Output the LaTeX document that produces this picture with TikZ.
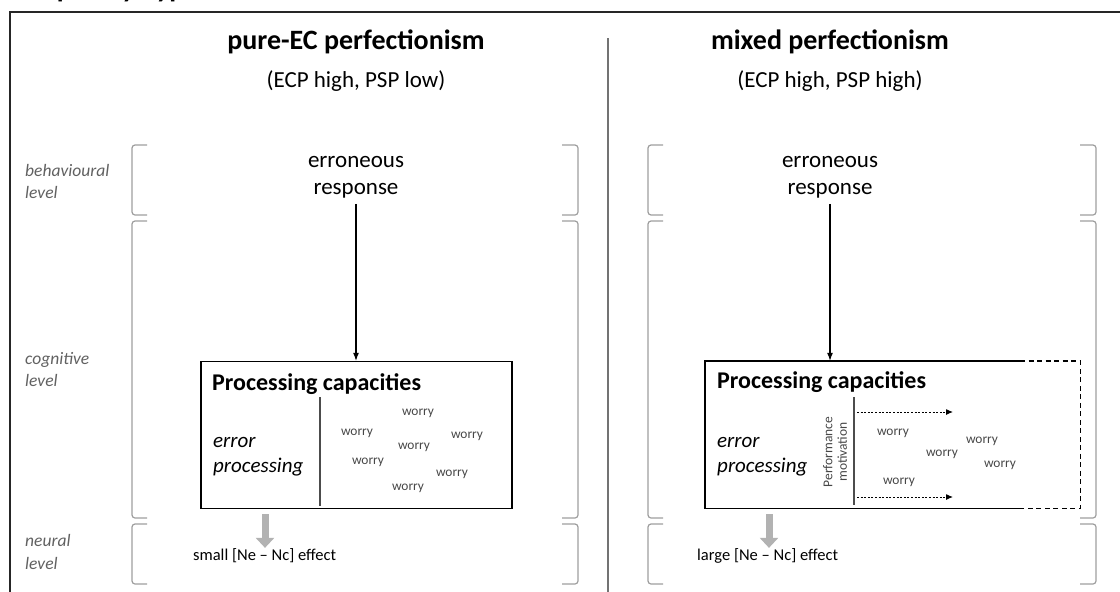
\documentclass[tikz,border=0pt]{standalone}
\usepackage{fontspec}
\setmainfont{Carlito}
\usetikzlibrary{arrows.meta,calc}
\newcommand\openbrk[3]{\draw[brk] ({#1+15},#2) -- (#1,#2) -- (#1,#3) -- ({#1+15},#3);}
\newcommand\closebrk[3]{\draw[brk] ({#1-16},#2) -- (#1,#2) -- (#1,#3) -- ({#1-16},#3);}
\begin{document}
\begin{tikzpicture}[x=1pt,y=-1pt,
  titlef/.style={font=\fontsize{28}{33}\selectfont\bfseries, anchor=base, inner sep=0pt},
  subf/.style={font=\fontsize{23}{28}\selectfont, anchor=base, inner sep=0pt},
  resp/.style={font=\fontsize{23}{28}\selectfont, anchor=base, inner sep=0pt},
  lvl/.style={font=\fontsize{17.5}{21}\selectfont\itshape, text=black!62, anchor=base west, inner sep=0pt},
  brk/.style={draw=black!38, line width=1.2pt, rounded corners=3pt},
  boxarea/.style={minimum width=#1, minimum height=147pt, inner sep=0pt},
  head/.style={font=\fontsize{24}{28}\selectfont\bfseries, anchor=base west, inner sep=0pt},
  errp/.style={font=\fontsize{21}{25}\selectfont\itshape, anchor=base west, inner sep=0pt},
  worry/.style={font=\fontsize{13.4}{16}\selectfont, text=black!72, inner sep=0pt},
  eff/.style={font=\fontsize{16.5}{20}\selectfont, anchor=base west, inner sep=0pt},
  perf/.style={font=\fontsize{13.5}{14.5}\selectfont, text=black!72, align=center, rotate=90, inner sep=0pt},
  varr/.style={-{Latex[length=8pt,width=6pt]}, line width=1.1pt, shorten <=6pt},
  garr/.style={line width=7pt, draw=black!30, -{Triangle[length=10pt,width=18pt]}},
  darr/.style={dash pattern=on 2pt off 1.6pt, line width=1pt, -{Latex[length=7pt,width=6pt]}},
  sepl/.style={draw=black!70, line width=1.1pt},
  frame/.style={line width=2pt, draw=black!85},
  boxline/.style={line width=1.4pt, draw=black}
]
\useasboundingbox (0,0) rectangle (1120,592);
\clip (0,0) rectangle (1120,592);

% cut-off heading and frame
\node[font=\fontsize{28}{33}\selectfont\bfseries, anchor=base west, inner sep=0pt] (cut) at (4,-3) {Complexity hypothesis};
\draw[frame] (10,600) -- (10,12) -- (1130,12);
\draw[draw=black!55, line width=1.1pt] (608,38) -- (608,600);

% titles
\node[titlef] (tL) at (356,49) {pure-EC perfectionism};
\node[subf] (sL) at (356,87) {(ECP high, PSP low)};
\node[titlef] (tR) at (830,49) {mixed perfectionism};
\node[subf] (sR) at (830,87) {(ECP high, PSP high)};

% level labels
\node[lvl] (b1) at (25,176) {behavioural};
\node[lvl] (b2) at (25,198) {level};
\node[lvl] (c1) at (25,364) {cognitive};
\node[lvl] (c2) at (25,386) {level};
\node[lvl] (n1) at (25,546) {neural};
\node[lvl] (n2) at (25,569) {level};

% brackets
\openbrk{132}{145}{215}
\openbrk{132}{221}{518}
\openbrk{132}{524}{584}
\closebrk{578}{145}{215}
\closebrk{578}{221}{518}
\closebrk{578}{524}{584}
\openbrk{648}{145}{215}
\openbrk{648}{221}{518}
\openbrk{648}{524}{584}
\closebrk{1096}{145}{215}
\closebrk{1096}{221}{518}
\closebrk{1096}{524}{584}

% responses
\node[resp] (rL1) at (356,167) {erroneous};
\node[resp] (rL2) at (356,194) {response};
\node[resp] (rR1) at (830,167) {erroneous};
\node[resp] (rR2) at (830,194) {response};

% left box
\node[boxarea=311pt, draw=black, line width=1.4pt] (boxL) at (356.5,435) {};
\draw[varr] (rL2.south) -- (rL2.south |- boxL.north);
\node[head] (hL) at (212,390) {Processing capacities};
\draw[sepl] (320,397) -- (320,506);
\node[errp] (eL1) at (213,447) {error};
\node[errp] (eL2) at (213,472) {processing};
\node[worry] (wL1) at (418,413) {worry};
\node[worry] (wL2) at (357,433) {worry};
\node[worry] (wL3) at (467,436) {worry};
\node[worry] (wL4) at (414,447) {worry};
\node[worry] (wL5) at (368,462) {worry};
\node[worry] (wL6) at (452,474) {worry};
\node[worry] (wL7) at (408,488) {worry};
\coordinate (gL) at (265,514);
\node[eff] (fL) at (193,560) {small [Ne – Nc] effect};
\draw[garr] (gL) -- (gL |- fL.north);

% right box
\node[boxarea=375pt] (boxR) at (892.5,434.5) {};
\draw[boxline] ($(boxR.north east)+(-60,0)$) -- (boxR.north west) -- (boxR.south west) -- ($(boxR.south east)+(-60,0)$);
\draw[boxline, dash pattern=on 5pt off 3.5pt] ($(boxR.north east)+(-60,0)$) -- (boxR.north east) -- (boxR.south east) -- ($(boxR.south east)+(-60,0)$);
\draw[varr] (rR2.south) -- (rR2.south |- boxR.north);
\node[head] (hR) at (717,388) {Processing capacities};
\draw[sepl] (854,397) -- (854,505);
\node[errp] (eR1) at (717,447) {error};
\node[errp] (eR2) at (717,472) {processing};
\node[perf] (pm) at (835,452) {Performance\\motivation};
\coordinate (d1s) at (857,412);
\coordinate (d1e) at (953,412);
\coordinate (d2s) at (857,497);
\coordinate (d2e) at (953,497);
\draw[darr] (d1s) -- (d1e);
\draw[darr] (d2s) -- (d2e);
\node[worry] (wR1) at (893,433) {worry};
\node[worry] (wR2) at (982,441) {worry};
\node[worry] (wR3) at (942,454) {worry};
\node[worry] (wR4) at (1000,465) {worry};
\node[worry] (wR5) at (899,482) {worry};
\coordinate (gR) at (769,514);
\node[eff] (fR) at (697,560) {large [Ne – Nc] effect};
\draw[garr] (gR) -- (gR |- fR.north);
\end{tikzpicture}
\end{document}
